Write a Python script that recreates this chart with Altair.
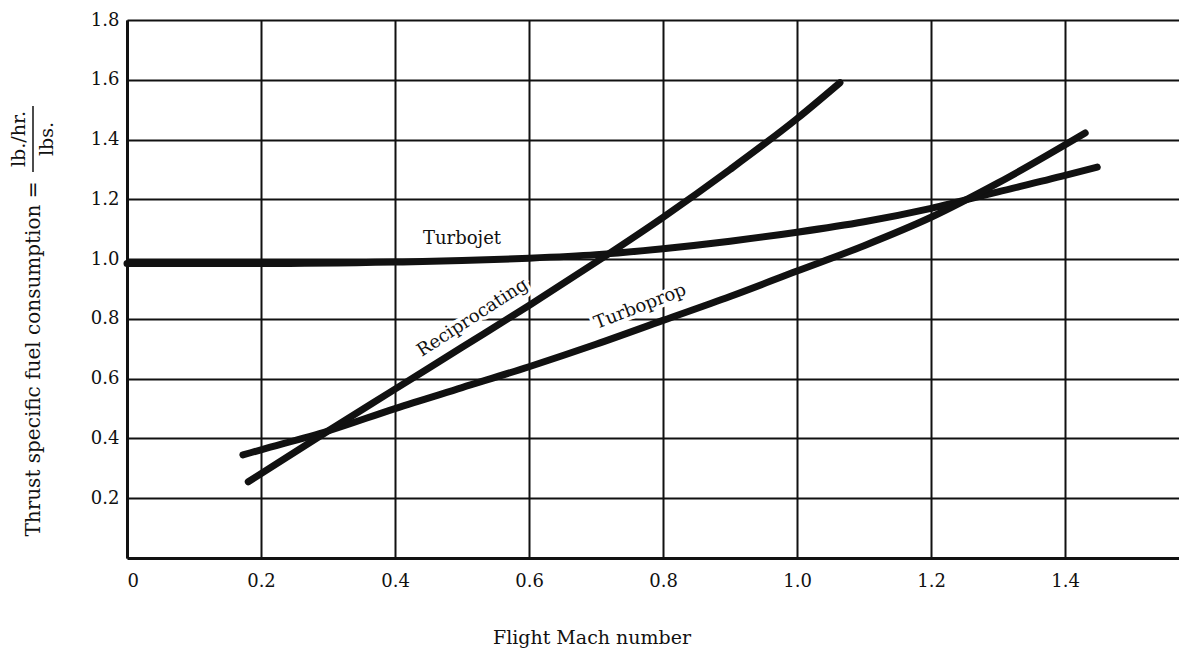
import altair as alt
import pandas as pd

# ---- data ----
turbojet_mach = [0.0, 0.2, 0.4, 0.5, 0.6, 0.7, 0.8, 0.9, 1.0, 1.1, 1.2, 1.3, 1.4, 1.448]
turbojet_tsfc = [0.985, 0.985, 0.99, 0.995, 1.003, 1.015, 1.035, 1.06, 1.09, 1.125, 1.17, 1.225, 1.28, 1.308]

turboprop_mach = [0.173, 0.2, 0.3, 0.4, 0.5, 0.6, 0.7, 0.8, 0.9, 1.0, 1.1, 1.2, 1.3, 1.43]
turboprop_tsfc = [0.345, 0.362, 0.425, 0.5, 0.57, 0.64, 0.715, 0.795, 0.875, 0.96, 1.045, 1.14, 1.255, 1.422]

recip_mach = [0.181, 0.3, 0.4, 0.5, 0.6, 0.7, 0.8, 0.9, 1.0, 1.064]
recip_tsfc = [0.255, 0.425, 0.565, 0.705, 0.845, 0.99, 1.14, 1.3, 1.47, 1.59]

label_text = ["Turbojet", "Reciprocating", "Turboprop"]
label_mach = [0.50, 0.516, 0.766]
label_tsfc = [1.067, 0.803, 0.84]
label_angle = [0, 327, 339]

x_ticks = [0, 0.2, 0.4, 0.6, 0.8, 1.0, 1.2, 1.4]
y_ticks = [0.2, 0.4, 0.6, 0.8, 1.0, 1.2, 1.4, 1.6, 1.8]

FONT = "DejaVu Serif"
INK = "#111111"
W, H = 1052, 538

rows = []
for name, xs, ys in [("Turbojet", turbojet_mach, turbojet_tsfc),
                     ("Turboprop", turboprop_mach, turboprop_tsfc),
                     ("Reciprocating", recip_mach, recip_tsfc)]:
    for i, (a, b) in enumerate(zip(xs, ys)):
        rows.append({"engine": name, "mach": a, "tsfc": b, "order": i})
df = pd.DataFrame(rows)

xscale = alt.Scale(domain=[0, 1.57], nice=False, zero=False)
yscale = alt.Scale(domain=[0, 1.8], nice=False, zero=False)

xaxis = alt.Axis(values=x_ticks, title=None, grid=True, ticks=False,
                 labelExpr="datum.value == 0 ? '0' : format(datum.value, '.1f')",
                 labelPadding=14, labelFont=FONT, labelFontSize=18, labelColor=INK,
                 domainColor=INK, domainWidth=3, gridColor=INK, gridWidth=2,
                 gridOpacity=1)
yaxis = alt.Axis(values=y_ticks, title=None, grid=True, ticks=False,
                 format=".1f", labelPadding=8, labelFont=FONT, labelFontSize=18,
                 labelColor=INK, domainColor=INK, domainWidth=3, gridColor=INK,
                 gridWidth=2, gridOpacity=1)

layers = []
# white halo behind curve labels (gridlines are interrupted there)
for t, mx, my, ang in zip(label_text, label_mach, label_tsfc, label_angle):
    ldf = pd.DataFrame({"mach": [mx], "tsfc": [my], "label": [t]})
    layers.append(
        alt.Chart(ldf).mark_text(font=FONT, fontSize=18, color="white", stroke="white",
                                 strokeWidth=7, angle=ang,
                                 align="center", baseline="middle").encode(
            x=alt.X("mach:Q", scale=xscale, axis=xaxis),
            y=alt.Y("tsfc:Q", scale=yscale, axis=yaxis),
            text="label:N",
        )
    )

lines = alt.Chart(df).mark_line(
    color=INK, strokeWidth=7, strokeCap="round", strokeJoin="round",
    interpolate="monotone"
).encode(
    x=alt.X("mach:Q", scale=xscale, axis=xaxis),
    y=alt.Y("tsfc:Q", scale=yscale, axis=yaxis),
    detail="engine:N",
    order="order:Q",
)
layers.append(lines)

for t, mx, my, ang in zip(label_text, label_mach, label_tsfc, label_angle):
    ldf = pd.DataFrame({"mach": [mx], "tsfc": [my], "label": [t]})
    layers.append(
        alt.Chart(ldf).mark_text(font=FONT, fontSize=18, color=INK, angle=ang,
                                 align="center", baseline="middle").encode(
            x=alt.X("mach:Q", scale=xscale),
            y=alt.Y("tsfc:Q", scale=yscale),
            text="label:N",
        )
    )

ann = pd.DataFrame({"k": [0]})
# x axis title
layers.append(alt.Chart(ann).mark_text(font=FONT, fontSize=19, color=INK,
                                       align="center", baseline="middle").encode(
    x=alt.value(465), y=alt.value(618), text=alt.value("Flight Mach number")))
# y axis title with fraction
layers.append(alt.Chart(ann).mark_text(font=FONT, fontSize=20, color=INK, angle=270,
                                       align="center", baseline="middle").encode(
    x=alt.value(-93), y=alt.value(339), text=alt.value("Thrust specific fuel consumption =")))
layers.append(alt.Chart(ann).mark_text(font=FONT, fontSize=19, color=INK, angle=270,
                                       align="center", baseline="middle").encode(
    x=alt.value(-108), y=alt.value(119), text=alt.value("lb./hr.")))
layers.append(alt.Chart(ann).mark_text(font=FONT, fontSize=19, color=INK, angle=270,
                                       align="center", baseline="middle").encode(
    x=alt.value(-80), y=alt.value(119), text=alt.value("lbs.")))
layers.append(alt.Chart(ann).mark_rule(color=INK, strokeWidth=1.5).encode(
    x=alt.value(-94), y=alt.value(86), y2=alt.value(152)))

chart = alt.layer(*layers).properties(
    width=W, height=H,
    background="white",
    autosize=alt.AutoSizeParams(type="none"),
    padding={"left": 119, "top": 12, "right": 0, "bottom": 90},
).configure_view(stroke="transparent")

chart.save("out.html", embed_options={"renderer": "svg", "actions": False})
